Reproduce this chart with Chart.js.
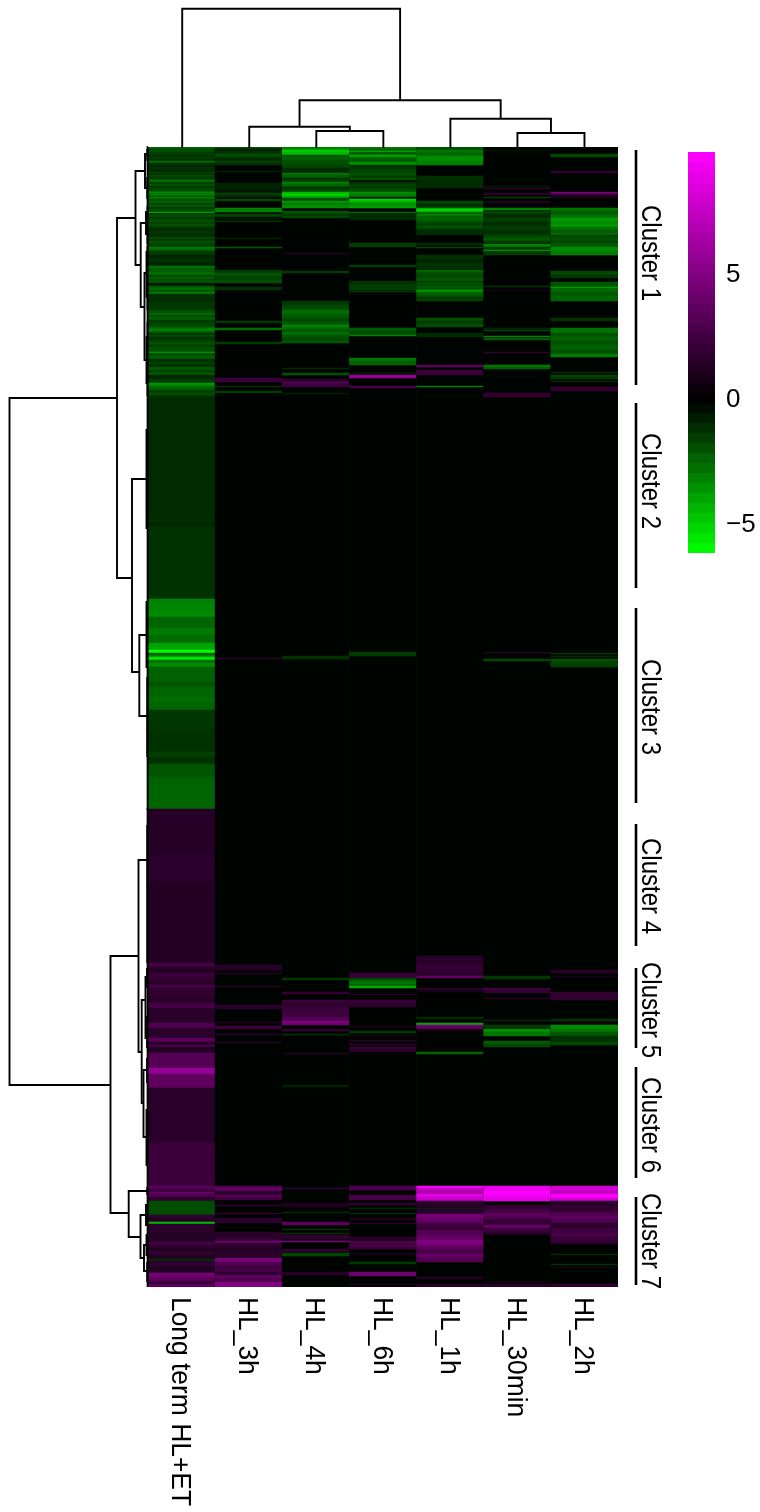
<!DOCTYPE html>
<html>
<head>
<meta charset="utf-8">
<style>
html, body { margin: 0; padding: 0; background: #fff; }
canvas { position: absolute; }
</style>
<script src="https://cdn.jsdelivr.net/npm/chart.js@4/dist/chart.umd.min.js"></script>
</head>
<body>
<canvas id="heat" width="760" height="1512" style="left:0;top:0"></canvas>
<canvas id="topTree" width="760" height="148" style="left:0;top:0"></canvas>
<canvas id="leftTree" width="150" height="1512" style="left:0;top:0"></canvas>
<canvas id="colorBar" width="72" height="421" style="left:688px;top:142px"></canvas>
<script>
/** HEATMAP DATA **/

var columns = ["Long term HL+ET", "HL_3h", "HL_4h", "HL_6h", "HL_1h", "HL_30min", "HL_2h"];
var rowCount = 1140;
var baseValue = -0.1; // nearly every cell outside the bands below

/* bands of rows: [first row, end row, log2 value] */
var longTerm = [[0,2,-2.3],[2,3,-1.7],[3,5,-1.9],[5,6,-1.3],[6,8,-1.6],[8,10,-1.2],[10,12,-1.5],[12,14,-1.2],[14,16,-2.5],[16,18,-1.2],[18,20,-0.9],[20,23,-1.2],[23,25,-0.9],[25,27,-1.6],[27,28,-1],[28,30,-1.8],[30,31,-1.1],[31,33,-1.6],[33,35,-2.8],[35,37,-1.4],[37,39,-2],[39,41,-1.4],[41,44,-1.7],[44,45,-2.2],[45,46,-3.6],[46,47,-2.4],[47,48,-3.4],[48,50,-2.3],[50,52,-2.8],[52,54,-1.8],[54,56,-2.4],[56,58,-1.6],[58,60,-2.2],[60,62,-1.3],[62,65,-1.8],[65,66,-4.4],[66,68,-1.4],[68,70,-1.9],[70,73,-1.4],[73,75,-2],[75,77,-1.5],[77,79,-2],[79,81,-1.5],[81,84,-1],[84,87,-1.3],[87,90,-1],[90,92,-1.8],[92,94,-1.3],[94,97,-1.9],[97,100,-1.5],[100,102,-2.9],[102,104,-2.4],[104,108,-1.4],[108,112,-0.9],[112,115,-1.2],[115,119,-0.9],[119,121,-2.7],[121,123,-2.2],[123,125,-2.2],[125,128,-2.6],[128,130,-1.7],[130,132,-2.3],[132,134,-1.7],[134,136,-2.2],[136,139,-0.6],[139,141,-2.1],[141,143,-2.6],[143,145,-2],[145,147,-3],[147,155,-1.1],[155,163,-1.3],[163,166,-1.9],[166,168,-2.5],[168,171,-1.9],[171,173,-2.3],[173,176,-1.4],[176,180,-1.7],[180,182,-2.4],[182,184,-3.2],[184,186,-2.4],[186,188,-1.3],[188,190,-1.8],[190,193,-1.2],[193,195,-1.6],[195,198,-1.9],[198,200,-1.4],[200,205,-1.9],[205,206,-3.8],[206,209,-1.9],[209,212,-2.2],[212,215,-1.2],[215,218,-1.5],[218,220,-1.1],[220,223,-2.1],[223,226,-1.6],[226,228,-2.2],[228,232,-1],[232,236,-1.4],[236,238,-3.6],[238,240,-3],[240,243,-2.4],[243,246,-1.5],[246,248,-1.9],[248,250,-1.4],[250,368,-1],[368,376,-1.1],[376,379,-0.8],[379,452,-1.2],[452,458,-3.1],[458,465,-3.2],[465,470,-3.3],[470,481,-2.4],[481,488,-2.9],[488,496,-2.6],[496,500,-3.8],[500,503,-4],[503,506,-6.1],[506,508,-2.1],[508,510,-3.1],[510,513,-5.5],[513,516,-2.7],[516,520,-3.3],[520,535,-2.3],[535,540,-2],[540,550,-2.4],[550,555,-2.6],[555,563,-2.4],[563,583,-1.3],[583,605,-1.2],[605,610,-1.5],[610,617,-1.2],[617,630,-2],[630,638,-2.3],[638,662,-2.4],[662,708,1.5],[708,735,1.7],[735,816,1.4],[816,820,2.7],[820,826,1.4],[826,830,2.3],[830,835,1.9],[835,838,1.4],[838,841,2.7],[841,850,1.9],[850,856,1.6],[856,861,2.7],[861,876,1.6],[876,881,3.1],[881,891,1.6],[891,895,3.5],[895,898,1.4],[898,900,3.1],[900,906,1.4],[906,921,3.3],[921,927,5.8],[927,941,3.7],[941,996,1.6],[996,1039,2.3],[1039,1042,3.5],[1042,1045,2.3],[1045,1047,3.9],[1047,1050,3.1],[1050,1054,1.9],[1054,1068,-1.8],[1068,1071,1.9],[1071,1074,1.4],[1074,1075,1.7],[1075,1077,-4.5],[1077,1085,1.7],[1085,1095,1.4],[1095,1098,2.7],[1098,1101,1.9],[1101,1104,1.2],[1104,1108,1.9],[1108,1112,1.3],[1112,1114,-1.2],[1114,1120,1.7],[1120,1126,1.3],[1126,1130,4.6],[1130,1133,3.8],[1133,1135,3.2],[1135,1137,1.9],[1137,1140,3.5]];

var hl3h = [[0,2,-1.7],[2,4,-0.7],[4,7,-1.2],[7,9,-1.9],[9,11,-1.5],[11,14,-1],[14,16,-1.6],[16,18,-1.2],[24,25,-0.8],[36,43,-0.8],[43,46,-0.5],[46,48,-1.6],[48,50,-1.1],[52,54,-1.7],[61,65,-3.1],[67,70,-1.7],[70,73,-0.5],[74,75,-1.2],[91,92,-0.8],[100,101,-2.1],[123,126,-1.4],[126,129,-2],[129,133,-1.6],[133,136,-1.9],[140,143,-1.2],[174,176,-1.3],[181,183,-2.6],[195,197,-1.4],[231,235,2.3],[239,240,-1.1],[244,246,-1.4],[511,512,1.6],[818,823,1.6],[826,827,1.4],[839,840,1.2],[858,862,1.7],[875,876,1.2],[879,882,2.3],[887,888,1.6],[895,896,1.2],[1039,1041,3.1],[1041,1044,4.1],[1044,1048,1.6],[1048,1050,3.5],[1050,1053,2.5],[1058,1059,1.9],[1066,1067,1.9],[1071,1076,1.7],[1085,1091,1.6],[1091,1094,1.9],[1094,1096,4.3],[1096,1100,1.9],[1100,1104,1.4],[1104,1110,1.7],[1111,1115,4.7],[1115,1119,3.1],[1119,1122,2.4],[1122,1125,2.9],[1125,1128,1.6],[1128,1132,3.7],[1132,1135,2.8],[1135,1140,5]];

var hl4h = [[0,2,-3],[2,3,-3.6],[3,5,-4.8],[5,8,-4.4],[8,10,-2],[10,13,-2.3],[13,17,-1.9],[17,21,-1.7],[21,26,-1],[26,28,-2.8],[28,31,-2.2],[31,33,-1.2],[33,35,-1.5],[35,37,-3],[37,40,-2.3],[40,42,-1.2],[42,45,-1.6],[45,47,-4.4],[47,49,-5],[49,51,-4],[51,54,-1.8],[54,56,-3.6],[56,58,-2.8],[58,61,-3.4],[64,67,-1.9],[67,69,-1.3],[69,71,-1.7],[106,107,1.2],[124,126,-1.4],[154,158,-1.3],[158,163,-1.7],[163,167,-2.6],[167,171,-2.2],[171,175,-1.7],[175,178,-2.1],[178,180,-3.2],[180,182,-2.7],[182,185,-2.1],[185,188,-2.6],[188,191,-2],[191,194,-1.7],[194,196,-2.1],[221,222,-1],[226,228,-1.9],[232,233,1.6],[234,237,2.9],[237,240,2.4],[246,247,-0.7],[509,512,-1.2],[831,833,-1.3],[845,847,2.1],[853,856,2.3],[856,860,1.8],[860,865,2.2],[865,870,2.4],[870,874,3.1],[874,876,5],[876,878,4.3],[882,884,1.9],[887,888,-1.2],[906,907,1.2],[938,940,-0.8],[1041,1042,1.9],[1056,1060,1.2],[1065,1066,-1],[1075,1078,3.5],[1082,1083,-1.2],[1086,1087,-1.2],[1088,1092,1.9],[1094,1095,5],[1102,1105,1.9],[1106,1109,-1.7],[1125,1128,1.6]];

var hl6h = [[0,2,-2.8],[2,4,-2.2],[4,5,-4.5],[5,8,-2.2],[8,10,-4],[10,12,-2.6],[12,15,-2.1],[15,18,-3.4],[18,22,-1.3],[22,26,-1.6],[26,29,-1.9],[29,31,-1.4],[31,33,-1.9],[35,37,-1.2],[37,39,-1.6],[39,42,-1.4],[42,45,-1.9],[45,47,-3.4],[47,50,-2.9],[50,52,-0.7],[52,54,-5],[54,56,-4.2],[56,59,-3.4],[59,61,-3.8],[65,66,-2.6],[67,73,-1],[96,100,-1.4],[118,120,-1.4],[134,138,-1.2],[138,143,-1.5],[144,145,-1.4],[181,184,-2.2],[184,188,-1.8],[188,189,-3.1],[211,214,-2.8],[214,218,-2.3],[226,227,-0.7],[228,231,5.8],[239,241,2.7],[505,509,-1.4],[826,831,2.1],[831,833,-1.6],[833,835,-2.3],[835,837,-2.9],[837,839,-2.4],[839,841,-4],[847,848,1.4],[853,856,2.1],[856,860,1.7],[879,880,1.2],[884,886,-1.4],[888,889,1],[893,894,1.6],[897,898,1.9],[900,902,2.1],[902,905,1.6],[1039,1043,3.1],[1048,1053,2.7],[1056,1058,1.9],[1061,1062,-1],[1066,1067,-1.1],[1071,1073,1.2],[1076,1077,1.6],[1090,1095,1.6],[1095,1096,3.9],[1097,1100,2.9],[1100,1102,2.2],[1106,1107,1.4],[1115,1117,-1.4],[1125,1129,4.3],[1137,1138,1.2]];

var hl1h = [[0,3,-1.9],[3,6,-2.8],[6,9,-2.4],[9,12,-3.3],[12,14,-3.5],[14,18,-3],[29,33,-1.2],[33,41,-1],[54,57,-1.7],[57,61,-1.2],[61,62,-3.8],[62,65,-5],[65,67,-2.3],[67,69,-3],[69,71,-2.4],[71,74,-2.3],[74,76,-1.9],[76,79,-1.6],[79,81,-2],[81,83,-1.5],[83,88,-1],[96,98,-1],[100,101,-1.7],[108,112,-1.2],[112,116,-0.9],[116,122,-1.2],[123,125,-2.5],[125,128,-1.9],[128,131,-1.7],[131,134,-2.1],[134,136,-1.6],[136,139,-1.8],[139,143,-2.1],[143,145,-3.6],[145,148,-2.3],[148,150,-1.9],[150,154,-1.5],[171,174,-1.9],[174,177,-1.4],[177,180,-1.8],[186,190,-1],[218,220,3.5],[223,228,2.3],[239,240,-2.9],[809,818,1.6],[818,825,2.1],[825,829,1.7],[829,831,3.9],[841,843,1.6],[844,845,1],[870,872,-1],[876,878,-4],[878,880,4.6],[880,882,3.4],[883,884,1.2],[905,907,-2.4],[1039,1041,9.9],[1041,1044,7.4],[1044,1047,6.6],[1047,1050,8.9],[1050,1054,7.8],[1054,1058,1.8],[1058,1061,1.3],[1061,1062,-1],[1062,1067,1.6],[1067,1071,4.6],[1071,1076,3.9],[1076,1080,2.6],[1080,1083,1.9],[1083,1088,3.2],[1088,1093,3.8],[1093,1097,5],[1097,1100,4.3],[1100,1103,3.3],[1103,1107,3],[1107,1111,3.8],[1111,1115,3.2],[1130,1132,1.4],[1137,1140,1.6]];

var hl30min = [[3,4,-0.5],[39,40,-0.6],[41,42,1.9],[46,48,1.7],[50,51,-1.4],[54,56,1.2],[61,63,-3.1],[64,67,-1.6],[67,71,-1.1],[71,75,-1.5],[75,79,-1.1],[79,83,-1.4],[83,88,-1.2],[88,91,-1.7],[91,94,-2.1],[94,96,-1.4],[97,100,-3.1],[100,103,-1.4],[103,104,-4],[104,108,-1.4],[139,140,-1.2],[143,144,1],[181,182,-1],[183,184,-1.7],[189,190,-3.1],[191,193,-2.1],[205,206,1.9],[218,220,-2.9],[220,222,-2.2],[246,250,1.9],[505,506,1.6],[512,514,-1.7],[829,832,-1.3],[841,843,2.5],[843,846,1.9],[851,852,1.4],[873,874,-1],[878,881,-1.4],[881,882,-0.7],[882,885,-3.4],[885,889,-2.8],[894,897,-2.2],[897,900,-1.7],[1039,1044,9.1],[1044,1048,9.9],[1048,1054,9.1],[1058,1062,2],[1062,1066,2.6],[1066,1070,3.6],[1070,1073,2.9],[1073,1078,2.1],[1078,1081,3.9],[1081,1086,2.3],[1086,1088,1.2],[1134,1135,1],[1137,1140,1.6]];

var hl2h = [[7,10,-1.7],[24,26,1.9],[45,47,4.3],[48,49,1.9],[50,51,1.2],[61,64,-2.8],[64,68,-2.2],[68,71,-2.7],[71,74,-3.7],[74,77,-3.3],[77,80,-3.6],[80,83,-2.7],[83,86,-2.2],[86,88,-2.5],[88,91,-1.6],[91,94,-2],[94,96,-1.5],[96,100,-2.1],[100,104,-3.3],[104,108,-3],[124,128,-1.7],[128,131,-1.3],[135,140,-2],[140,141,-4],[141,145,-2.5],[145,149,-2.1],[149,154,-2.4],[171,174,-1.2],[181,186,-2.7],[186,190,-2],[190,194,-2.4],[194,198,-1.9],[198,203,-2.3],[203,207,-1.9],[207,210,-2.9],[225,226,-1.1],[228,230,-1.7],[230,232,-1.4],[234,235,-1],[240,244,1.9],[506,507,-1.4],[509,510,-1],[512,514,-2],[514,520,-1.6],[823,826,1.6],[829,830,1],[845,853,1.9],[872,874,-1.2],[875,876,1.2],[878,882,-3.3],[882,885,-2.8],[885,889,-2.1],[889,895,-1.2],[895,898,-1.7],[1039,1044,8.2],[1044,1047,7.4],[1047,1051,9.9],[1051,1054,8.2],[1054,1059,1.6],[1059,1065,1.9],[1065,1069,3],[1069,1072,3.7],[1072,1076,3.1],[1076,1081,1.8],[1081,1086,2.4],[1086,1090,2.8],[1090,1095,2.2],[1095,1097,1.6],[1107,1108,-1.1],[1117,1118,-1.2],[1120,1121,1],[1137,1140,1.9]];

var columnBands = [longTerm, hl3h, hl4h, hl6h, hl1h, hl30min, hl2h];

/* cluster brackets on the right, in rows */
var clusterNames = ["Cluster 1", "Cluster 2", "Cluster 3", "Cluster 4", "Cluster 5", "Cluster 6", "Cluster 7"];
var clusterFrom = [3, 256, 461, 677, 821, 920, 1050];
var clusterTo = [238, 441, 656, 799, 901, 1031, 1138];
var clusterLabelRow = [58, 286, 512, 691, 815, 930, 1046];

/* column tree: [pos a, height a, pos b, height b, height] */
var columnMerges = [
    [4, 0, 5.5, 15, 29.3],
    [5, 0, 6, 0, 15],
    [2, 0, 3, 0, 17],
    [1, 0, 2.5, 17, 21.3],
    [1.75, 21.3, 4.75, 29.3, 47.7],
    [0, 0, 3.25, 47.7, 139.3]
];

/* row tree: [row a, height a, row b, height b, height] */
var rowMerges = [
    [251, 31, 938, 37.5, 138.5],
    [71, 12.5, 431, 16, 31],
    [24, 3, 118, 7.3, 12.5],
    [7, 1, 41, 1, 3],
    [2, 0.3, 14, 0.3, 1],
    [30, 0.3, 52, 0.3, 1],
    [76, 2, 160, 3.5, 7.3],
    [65, 0.5, 87, 0.5, 2],
    [60, 0, 70, 0, 0.5],
    [80, 0, 96, 0, 0.5],
    [126, 1.5, 213, 1.5, 3.5],
    [105, 0.5, 150, 0.5, 1.5],
    [100, 0, 112, 0, 0.5],
    [140, 0, 162, 0, 0.5],
    [190, 0.5, 236, 0.5, 1.5],
    [176, 0, 204, 0, 0.5],
    [225, 0, 248, 0, 0.5],
    [332, 1.5, 525, 8.7, 16],
    [283, 0.5, 381, 0.5, 1.5],
    [488, 1.5, 569, 1, 8.7],
    [455, 0.4, 520, 0.4, 1.5],
    [530, 0.4, 610, 0.4, 1],
    [809, 9.5, 1066, 19.3, 37.5],
    [713, 1, 905, 6.3, 9.5],
    [678, 0.3, 816, 0.3, 1],
    [853, 2.5, 956, 4.5, 6.3],
    [830, 1, 891, 1, 2.5],
    [822, 0, 840, 0, 1],
    [870, 0, 900, 0, 1],
    [923, 1, 990, 1.5, 4.5],
    [963, 0.5, 1018, 0.5, 1.5],
    [912, 0, 935, 0, 1],
    [1044, 1, 1090, 7.5, 19.3],
    [1068, 2, 1111, 4, 7.5],
    [1098, 1.5, 1124, 1, 4],
    [1058, 0.5, 1078, 0.5, 2],
    [1088, 0.5, 1108, 0.5, 1.5],
    [1115, 0.5, 1135, 0.5, 1],
    [1040, 0.3, 1048, 0.3, 1],
    [0, 0, 250, 0, 0.4],
    [252, 0, 662, 0, 0.4],
    [662, 0, 1139, 0, 0.4]
];

/* colour key */
var keyLevels = [-5.9,-5.5,-5.1,-4.7,-4.3,-3.9,-3.5,-3.1,-2.7,-2.3,-1.9,-1.5,-1.1,-0.7,-0.3,0.1,0.5,0.9,1.3,1.7,2.1,2.5,2.9,3.3,3.7,4.1,4.5,4.9,5.3,5.7,6.1,6.5,6.9,7.3,7.7,8.1,8.5,8.9,9.3,9.7];
var keyTicks = [-5, 0, 5];

function heatColor(v) {
    if (v < 0) {
        return "rgb(0," + Math.min(255, Math.round(-v * 42)) + ",0)";
    }
    var m = Math.min(255, Math.round(v * 25.75));
    return "rgb(" + m + ",0," + m + ")";
}

// bars for the heatmap, a full column first and then its bands on top
var heatBars = [];
var heatColors = [];
columns.forEach(function (name, i) {
    heatBars.push({ x: name, y: [0, rowCount] });
    heatColors.push(heatColor(baseValue));
    columnBands[i].forEach(function (b) {
        heatBars.push({ x: name, y: [b[0], b[1]] });
        heatColors.push(heatColor(b[2]));
    });
});

// text on its side, the reference is a bit wider than tall
function sideText(ctx, text, x, y, size, stretch) {
    ctx.save();
    ctx.translate(x, y);
    ctx.scale(stretch, 1);
    ctx.rotate(Math.PI / 2);
    ctx.font = size + 'px "Liberation Sans"';
    ctx.fillStyle = "#000";
    ctx.textAlign = "left";
    ctx.textBaseline = "alphabetic";
    ctx.fillText(text, 0, 0);
    ctx.restore();
}

var heatLabels = {
    id: "heatLabels",
    afterDraw: function (chart) {
        var ctx = chart.ctx;
        var xs = chart.scales.x;
        var ys = chart.scales.y;
        columns.forEach(function (name, i) {
            sideText(ctx, name, xs.getPixelForValue(i) - 9.5, 1297, 26.4, 1.08);
        });
        clusterNames.forEach(function (name, i) {
            ctx.fillStyle = "#000";
            ctx.fillRect(634.7, ys.getPixelForValue(clusterFrom[i]), 2.6, ys.getPixelForValue(clusterTo[i]) - ys.getPixelForValue(clusterFrom[i]));
            sideText(ctx, name, 641.5, ys.getPixelForValue(clusterLabelRow[i]), 24, 1.12);
        });
    }
};

new Chart(document.getElementById("heat"), {
    type: "bar",
    data: {
        labels: columns,
        datasets: [{
            data: heatBars,
            backgroundColor: heatColors,
            borderWidth: 0,
            barPercentage: 1,
            categoryPercentage: 1
        }]
    },
    options: {
        responsive: false,
        animation: false,
        devicePixelRatio: 1,
        layout: { padding: { left: 148, right: 142, top: 147, bottom: 225 } },
        plugins: { legend: { display: false }, tooltip: { enabled: false } },
        scales: {
            x: { display: false },
            y: { display: false, reverse: true, min: 0, max: rowCount }
        }
    },
    plugins: [heatLabels]
});

function treeOptions(padding, xScale, yScale) {
    return {
        responsive: false,
        animation: false,
        devicePixelRatio: 1,
        layout: { padding: padding },
        plugins: { legend: { display: false }, tooltip: { enabled: false } },
        scales: { x: xScale, y: yScale }
    };
}

function treeSet(points) {
    return { data: points, showLine: true, tension: 0, borderColor: "#000", borderWidth: 1.9, pointRadius: 0, clip: false };
}

// column tree
new Chart(document.getElementById("topTree"), {
    type: "scatter",
    data: {
        datasets: columnMerges.map(function (m) {
            return treeSet([{ x: m[0], y: m[1] }, { x: m[0], y: m[4] }, { x: m[2], y: m[4] }, { x: m[2], y: m[3] }]);
        })
    },
    options: treeOptions({ left: 148.7, right: 142, top: 1, bottom: 0 },
        { type: "linear", display: false, min: -0.5, max: 6.5 },
        { type: "linear", display: false, min: 0, max: 147 })
});

// row tree
new Chart(document.getElementById("leftTree"), {
    type: "scatter",
    data: {
        datasets: rowMerges.map(function (m) {
            return treeSet([{ x: m[1], y: m[0] }, { x: m[4], y: m[0] }, { x: m[4], y: m[2] }, { x: m[3], y: m[2] }]);
        })
    },
    options: treeOptions({ left: 0, right: 2, top: 147, bottom: 225 },
        { type: "linear", display: false, reverse: true, min: 0, max: 148 },
        { type: "linear", display: false, reverse: true, min: 0, max: rowCount })
});

// colour key
new Chart(document.getElementById("colorBar"), {
    type: "bar",
    data: {
        labels: ["key"],
        datasets: [{
            data: keyLevels.map(function (v) { return { x: "key", y: [v - 0.21, v + 0.21] }; }),
            backgroundColor: keyLevels.map(heatColor),
            borderWidth: 0,
            barPercentage: 1,
            categoryPercentage: 1
        }]
    },
    options: {
        responsive: false,
        animation: false,
        devicePixelRatio: 1,
        layout: { padding: { left: 0, right: 0, top: 10, bottom: 10 } },
        plugins: { legend: { display: false }, tooltip: { enabled: false } },
        scales: {
            x: { display: false },
            y: {
                position: "right",
                min: -6.12,
                max: 9.92,
                border: { display: false },
                grid: { display: false, drawTicks: false },
                afterBuildTicks: function (s) { s.ticks = keyTicks.map(function (v) { return { value: v }; }); },
                afterFit: function (s) { s.width = 45; s.paddingTop = 0; s.paddingBottom = 0; },
                ticks: {
                    padding: 11,
                    color: "#000",
                    autoSkip: false,
                    font: { family: "Liberation Sans", size: 26 },
                    callback: function (v) { return String(v).replace("-", "\u2212"); }
                }
            }
        }
    }
});
</script>
</body>
</html>
